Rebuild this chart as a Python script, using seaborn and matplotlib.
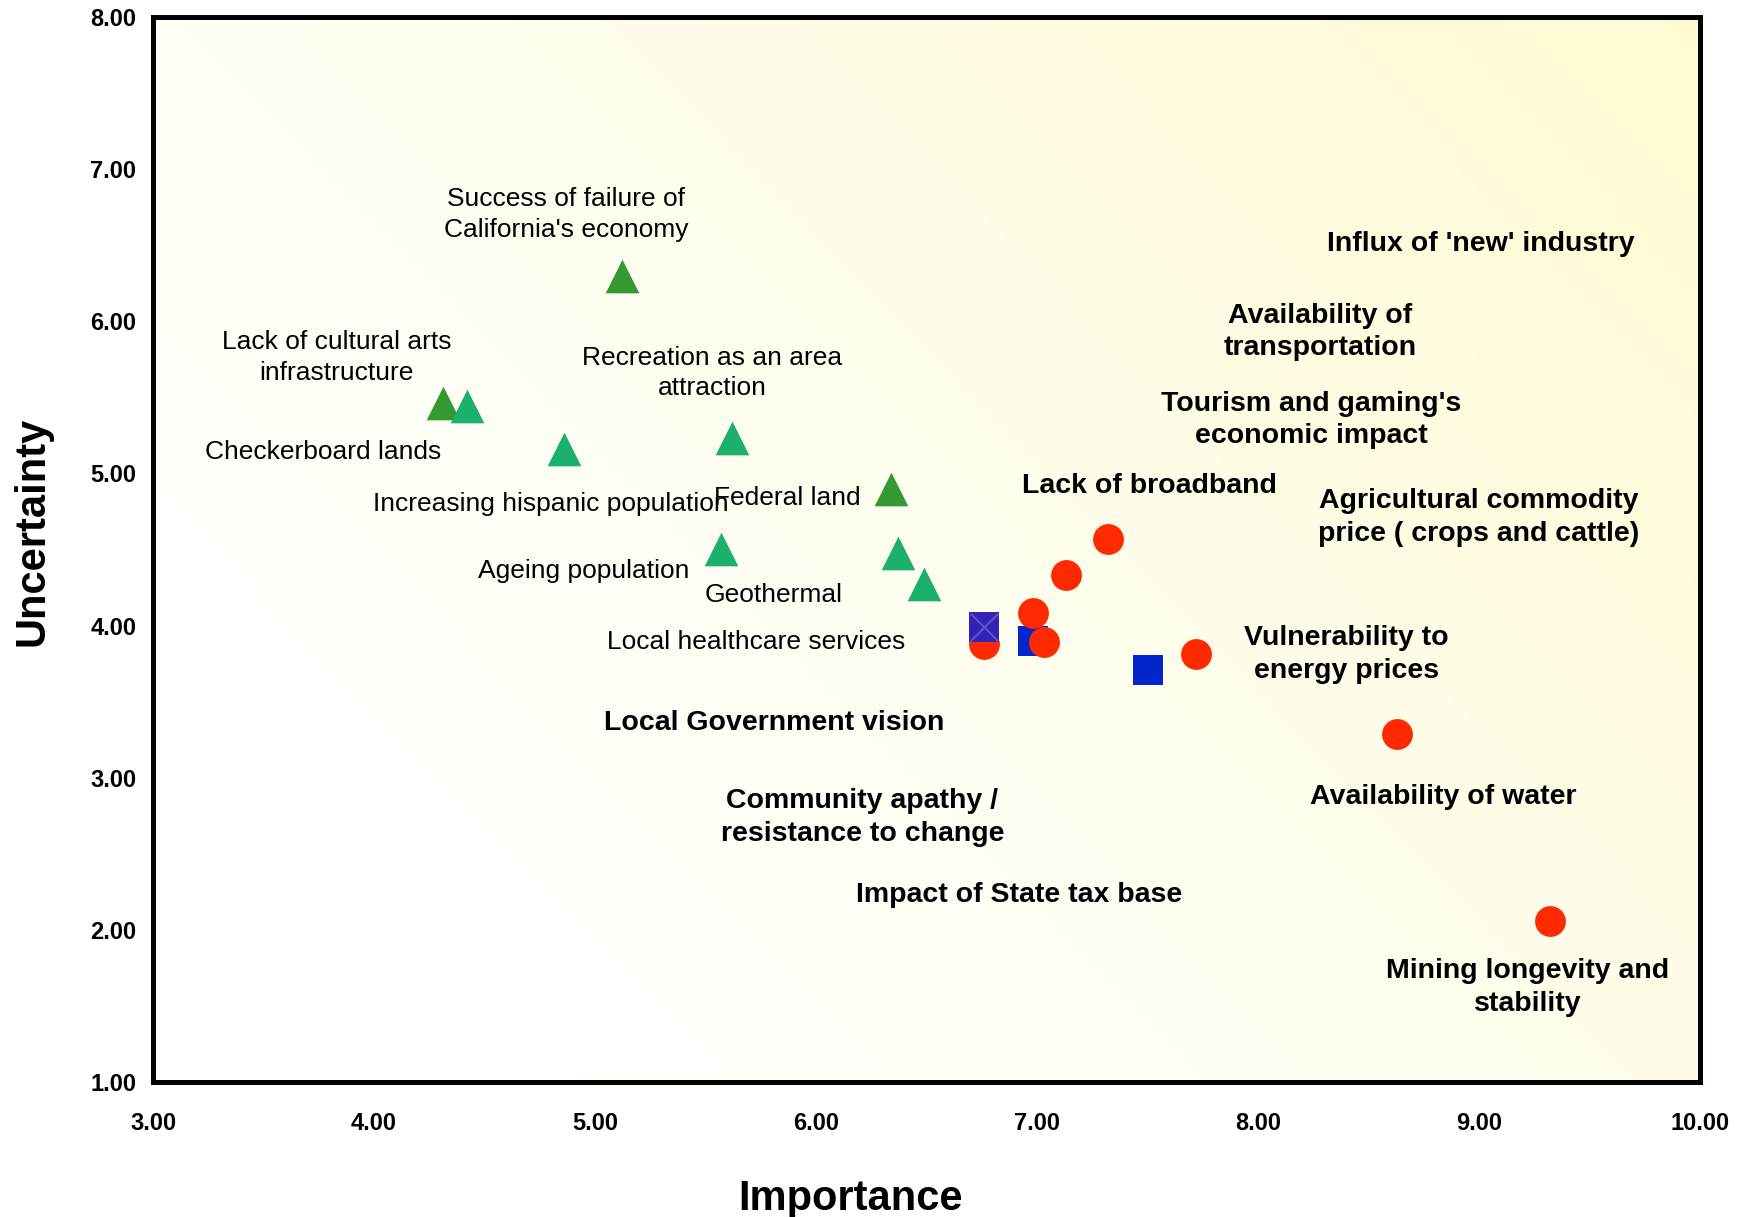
import numpy as np
import pandas as pd
import matplotlib
matplotlib.use("Agg")
import matplotlib.pyplot as plt
import seaborn as sns

# ---- data ----
dark_tri_x = [5.12, 4.31, 6.34]
dark_tri_y = [6.30, 5.46, 4.90]

green_tri_x = [4.42, 4.86, 5.62, 5.57, 6.37, 6.49]
green_tri_y = [5.44, 5.16, 5.23, 4.50, 4.48, 4.27]

blue_sq_x = [6.98, 7.50]
blue_sq_y = [3.90, 3.71]

red_x = [6.76, 6.98, 7.03, 7.13, 7.32, 7.72, 8.63, 9.32]
red_y = [3.88, 4.08, 3.89, 4.33, 4.57, 3.81, 3.29, 2.06]

purple_x = [6.76]
purple_y = [3.99]

plain_labels = [
    "Success of failure of\nCalifornia's economy",
    "Lack of cultural arts\ninfrastructure",
    "Checkerboard lands",
    "Recreation as an area\nattraction",
    "Increasing hispanic population",
    "Federal land",
    "Ageing population",
    "Geothermal",
    "Local healthcare services",
]
plain_x = [4.87, 3.83, 3.77, 5.53, 4.80, 5.87, 4.95, 5.81, 5.73]
plain_y = [6.70, 5.76, 5.14, 5.66, 4.80, 4.84, 4.36, 4.20, 3.89]

bold_labels = [
    "Local Government vision",
    "Community apathy /\nresistance to change",
    "Impact of State tax base",
    "Lack of broadband",
    "Influx of 'new' industry",
    "Availability of\ntransportation",
    "Tourism and gaming's\neconomic impact",
    "Agricultural commodity\nprice ( crops and cattle)",
    "Vulnerability to\nenergy prices",
    "Availability of water",
    "Mining longevity and\nstability",
]
bold_x = [5.81, 6.21, 6.92, 7.51, 9.01, 8.28, 8.24, 9.00, 8.40, 8.84, 9.22]
bold_y = [3.36, 2.74, 2.23, 4.92, 6.51, 5.93, 5.35, 4.71, 3.81, 2.87, 1.62]

xticks = [3, 4, 5, 6, 7, 8, 9, 10]
yticks = [1, 2, 3, 4, 5, 6, 7, 8]

sns.set_style("white")
plt.rcParams["font.family"] = ["Liberation Sans", "DejaVu Sans"]

fig = plt.figure(figsize=(17.47, 12.17), dpi=100)
ax = fig.add_axes([0.0876, 0.111, 0.8855, 0.875])

# background gradient: white bottom-left to pale yellow top-right
gx, gy = np.meshgrid(np.linspace(0, 1, 200), np.linspace(0, 1, 200))
t = np.clip((gx * 0.6 + gy * 0.4), 0, 1) ** 1.5
c0 = np.array([1.0, 1.0, 1.0])
c1 = np.array([1.0, 0.985, 0.82])
img = c0[None, None, :] * (1 - t[..., None]) + c1[None, None, :] * t[..., None]
ax.imshow(img, extent=[3, 10, 1, 8], origin="lower", aspect="auto", zorder=0)

ms = 470
sns.scatterplot(x=dark_tri_x, y=dark_tri_y, marker="^", s=ms * 1.25, color="#339933",
                linewidth=0, ax=ax, zorder=3)
sns.scatterplot(x=green_tri_x, y=green_tri_y, marker="^", s=ms * 1.25, color="#1bb06b",
                linewidth=0, ax=ax, zorder=3)
sns.scatterplot(x=blue_sq_x, y=blue_sq_y, marker="s", s=ms * 0.95, color="#0226cc",
                linewidth=0, ax=ax, zorder=3)
sns.scatterplot(x=red_x, y=red_y, marker="o", s=ms * 1.05, color="#ff2a00",
                linewidth=0, ax=ax, zorder=4)
sns.scatterplot(x=purple_x, y=purple_y, marker="s", s=ms * 0.95, color="#3322b4",
                linewidth=0, ax=ax, zorder=5)
ax.scatter(purple_x, purple_y, marker="x", s=ms * 0.85, color="#5a55c8",
           linewidths=1.5, zorder=6)

for lab, x, y in zip(plain_labels, plain_x, plain_y):
    ax.text(x, y, lab, ha="center", va="center", fontsize=19, color="black",
            zorder=7, linespacing=1.35)
for lab, x, y in zip(bold_labels, bold_x, bold_y):
    ax.text(x, y, lab, ha="center", va="center", fontsize=20.5, fontweight="bold",
            color="black", zorder=7, linespacing=1.33)

ax.set_xlim(3, 10)
ax.set_ylim(1, 8)
ax.set_xticks(xticks)
ax.set_yticks(yticks)
ax.set_xticklabels([f"{v:.2f}" for v in xticks], fontsize=17, fontweight="bold")
ax.set_yticklabels([f"{v:.2f}" for v in yticks], fontsize=17, fontweight="bold")
ax.tick_params(axis="both", direction="out", length=5, width=1.2, color="#555555",
               labelcolor="black")
ax.tick_params(axis="x", pad=17)
ax.tick_params(axis="y", pad=7)

for sp in ax.spines.values():
    sp.set_color("black")
    sp.set_linewidth(3.6)
    sp.set_visible(True)

ax.set_xlabel("Importance", fontsize=30, fontweight="bold", color="black")
ax.xaxis.set_label_coords(0.451, -0.091)
ax.set_ylabel("Uncertainty", fontsize=30, fontweight="bold", color="black")
ax.yaxis.set_label_coords(-0.065, 0.517)
ax.grid(False)

fig.savefig("out.png", dpi=100)
